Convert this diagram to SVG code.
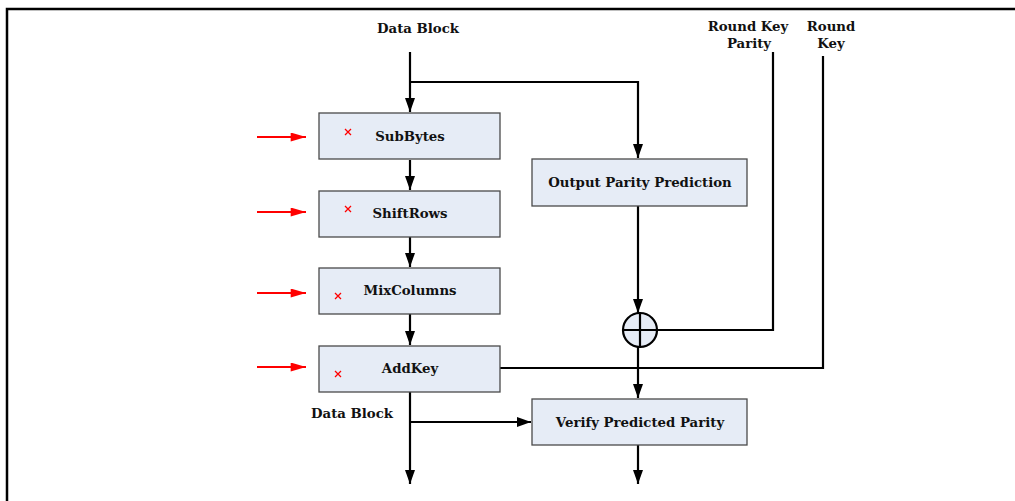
<svg xmlns="http://www.w3.org/2000/svg" width="1015" height="501" viewBox="0 0 1015 501">
<defs>
<marker id="ahb" viewBox="0 0 14 10" refX="14" refY="5" markerWidth="14" markerHeight="10" markerUnits="userSpaceOnUse" orient="auto">
<path d="M0,0 L14,5 L0,10 Z" fill="#000"/>
</marker>
<marker id="ahr" viewBox="0 0 17 10" refX="17" refY="5" markerWidth="17" markerHeight="9" markerUnits="userSpaceOnUse" orient="auto">
<path d="M0,0 L17,5 L0,10 Z" fill="#f00"/>
</marker>
</defs>
<style>
.box{fill:#e6ecf6;stroke:#4a4a4a;stroke-width:1.3}
.t{font-family:"DejaVu Serif","Liberation Serif",serif;font-weight:bold;font-size:13.3px;fill:#111;text-anchor:middle}
.ln{fill:none;stroke:#000;stroke-width:2.2}
.red{stroke:#f00;stroke-width:2.2;fill:none}
.x{stroke:#f00;stroke-width:1.3}
</style>
<rect width="1015" height="501" fill="#fff"/>
<path d="M7,501 V9 H1015" fill="none" stroke="#000" stroke-width="2.5"/>

<g id="labels">
<text class="t" x="418" y="33">Data Block</text>
<text class="t" x="352" y="418">Data Block</text>
<text class="t" x="748" y="31">Round Key</text>
<text class="t" x="749" y="48">Parity</text>
<text class="t" x="831" y="31">Round</text>
<text class="t" x="831" y="48">Key</text>
</g>

<g id="connectors">
<path class="ln" d="M410,52 V112" marker-end="url(#ahb)"/>
<path class="ln" d="M410,82 H638 V158" marker-end="url(#ahb)"/>
<path class="ln" d="M410,160 V190" marker-end="url(#ahb)"/>
<path class="ln" d="M410,237 V267" marker-end="url(#ahb)"/>
<path class="ln" d="M410,314 V345" marker-end="url(#ahb)"/>
<path class="ln" d="M638,206 V313" marker-end="url(#ahb)"/>
<path class="ln" d="M773,52 V330 H657"/>
<path class="ln" d="M823,56 V368 H500"/>
<path class="ln" d="M638,347 V398" marker-end="url(#ahb)"/>
<path class="ln" d="M410,392 V484" marker-end="url(#ahb)"/>
<path class="ln" d="M410,422 H531" marker-end="url(#ahb)"/>
<path class="ln" d="M638,445 V484" marker-end="url(#ahb)"/>
<path class="red" d="M257,137 H306" marker-end="url(#ahr)"/>
<path class="red" d="M257,212 H306" marker-end="url(#ahr)"/>
<path class="red" d="M257,293 H306" marker-end="url(#ahr)"/>
<path class="red" d="M257,367 H306" marker-end="url(#ahr)"/>
</g>

<g id="subbytes">
<rect class="box" x="319" y="113" width="181" height="46"/>
<path class="x" d="M345,129 l6,6 M351,129 l-6,6"/>
<text class="t" x="410" y="141">SubBytes</text>
</g>
<g id="shiftrows">
<rect class="box" x="319" y="191" width="181" height="46"/>
<path class="x" d="M345,206 l6,6 M351,206 l-6,6"/>
<text class="t" x="410" y="218">ShiftRows</text>
</g>
<g id="mixcolumns">
<rect class="box" x="319" y="268" width="181" height="46"/>
<path class="x" d="M335,293 l6,6 M341,293 l-6,6"/>
<text class="t" x="410" y="295">MixColumns</text>
</g>
<g id="addkey">
<rect class="box" x="319" y="346" width="181" height="46"/>
<path class="x" d="M335,371 l6,6 M341,371 l-6,6"/>
<text class="t" x="410" y="373">AddKey</text>
</g>
<g id="opp">
<rect class="box" x="532" y="159" width="215" height="47"/>
<text class="t" x="640" y="187">Output Parity Prediction</text>
</g>
<g id="xor">
<circle cx="640" cy="330" r="17" fill="#e6ecf6" stroke="#000" stroke-width="2.2"/>
<path class="ln" d="M640,313 V347 M623,330 H657"/>
</g>
<g id="verify">
<rect class="box" x="532" y="399" width="215" height="46"/>
<text class="t" x="640" y="427">Verify Predicted Parity</text>
</g>
</svg>
